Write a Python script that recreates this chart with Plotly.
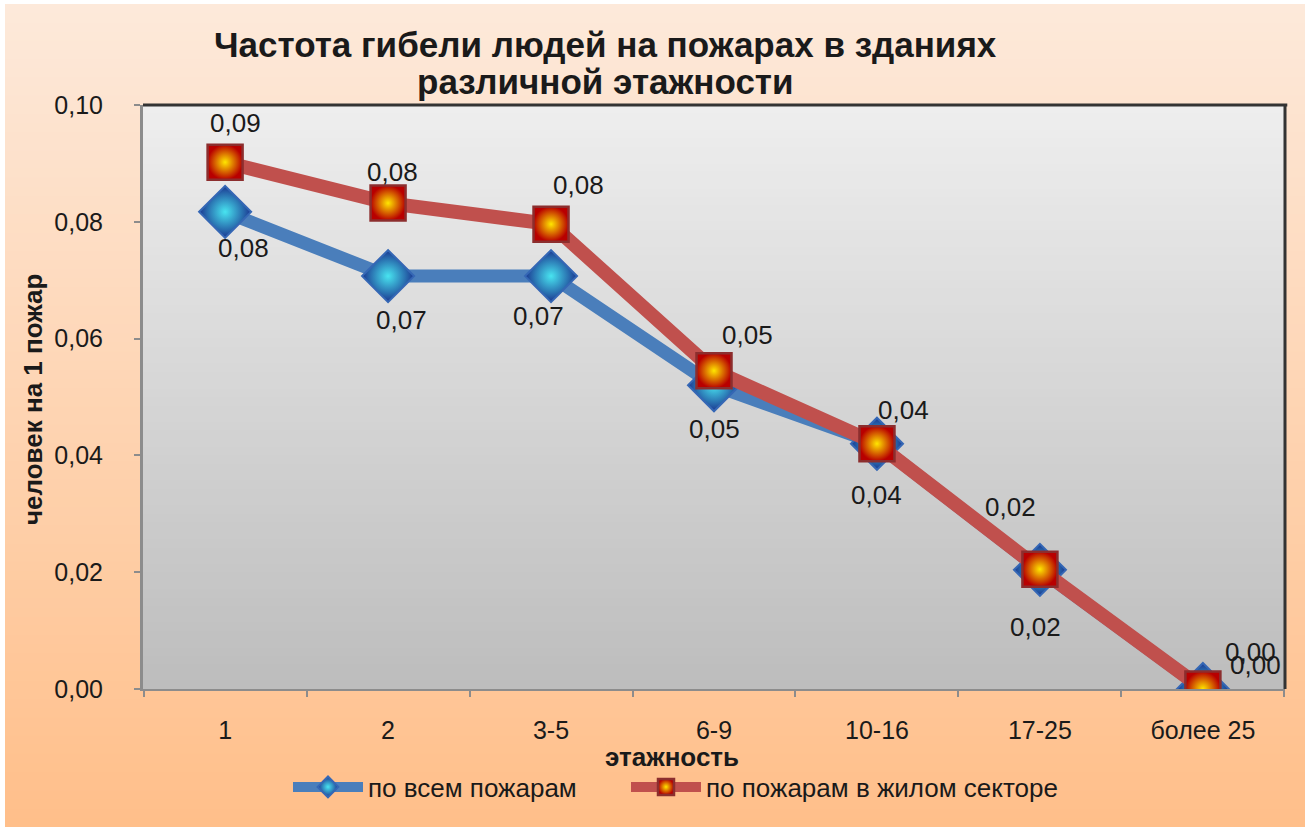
import plotly.graph_objects as go

categories = ["1", "2", "3-5", "6-9", "10-16", "17-25", "более 25"]
all_fires = [0.0817, 0.0707, 0.0707, 0.0520, 0.0420, 0.0204, 0.0]
residential = [0.0902, 0.0832, 0.0796, 0.0545, 0.0420, 0.0205, 0.0]
y_ticks = [0.0, 0.02, 0.04, 0.06, 0.08, 0.10]

name_all = "по всем пожарам"
name_res = "по пожарам в жилом секторе"
title_line1 = "Частота гибели людей на пожарах в зданиях"
title_line2 = "различной этажности"
x_title = "этажность"
y_title = "человек на 1 пожар"

# label offsets (px) relative to each marker - styling only
res_dx = [10, 4, 27, 33, 27, -29, 48]
res_dy = [39, 31, 39, 36, 34, 62, 37]
all_dx = [18, 13, -13, 0, 0, -4, 53]
all_dy = [-36, -44, -40, -44, -51, -57, 24]

FONT = "Liberation Sans, Arial, sans-serif"
W, H = 1305, 827
L, R, T, B = 143, 20, 105, 138
PW, PH = W - L - R, H - T - B


def px(xp):
    return (xp - L) / PW


def py(yp):
    return (H - B - yp) / PH


fig = go.Figure()
fig.add_trace(go.Scatter(
    x=categories, y=all_fires, name=name_all, mode="lines+markers", legend="legend",
    line=dict(color="#4a7ebb", width=13),
    marker=dict(symbol="diamond", size=40, color="#1a3690",
                gradient=dict(type="radial", color="#48e4f0"),
                line=dict(color="#3567b5", width=2)),
))
fig.add_trace(go.Scatter(
    x=categories, y=residential, name=name_res, mode="lines+markers", legend="legend2",
    line=dict(color="#c0504d", width=14),
    marker=dict(symbol="square", size=35, color="#b80000",
                gradient=dict(type="radial", color="#ffe600"),
                line=dict(color="#8c2e2e", width=2.5)),
))


def fmt(v):
    return f"{v:.2f}".replace(".", ",")


TXT = "#1a1a1a"
label_font = dict(family=FONT, size=26, color=TXT)
annotations = []
for i, (v, dx, dy) in enumerate(zip(residential, res_dx, res_dy)):
    annotations.append(dict(x=i, y=v, xref="x", yref="y", text=fmt(v), showarrow=False,
                            xshift=dx, yshift=dy, font=label_font))
for i, (v, dx, dy) in enumerate(zip(all_fires, all_dx, all_dy)):
    annotations.append(dict(x=i, y=v, xref="x", yref="y", text=fmt(v), showarrow=False,
                            xshift=dx, yshift=dy, font=label_font))
# chart title (two centred lines)
for txt, yc in ((title_line1, 44), (title_line2, 81)):
    annotations.append(dict(x=px(605), y=py(yc), xref="paper", yref="paper", text=f"<b>{txt}</b>",
                            xanchor="center", yanchor="middle", showarrow=False,
                            font=dict(family=FONT, size=35, color=TXT)))
annotations.append(dict(x=px(672), y=py(757), xref="paper", yref="paper", text=f"<b>{x_title}</b>",
                        xanchor="center", yanchor="middle", showarrow=False,
                        font=dict(family=FONT, size=26, color=TXT)))
annotations.append(dict(x=px(33), y=py(400), xref="paper", yref="paper", text=f"<b>{y_title}</b>",
                        xanchor="center", yanchor="middle", textangle=-90, showarrow=False,
                        font=dict(family=FONT, size=26, color=TXT)))

# background gradients drawn as thin strips
shapes = []


def lerp(a, b, t):
    return tuple(round(a[i] + (b[i] - a[i]) * t) for i in range(3))


top_c, bot_c = (253, 233, 218), (255, 191, 138)
n = 90
y_start, y_end = 4, H
for i in range(n):
    t = i / (n - 1)
    c = lerp(top_c, bot_c, t)
    ya = y_start + (y_end - y_start) * i / n
    yb = y_start + (y_end - y_start) * (i + 1) / n + 1
    shapes.append(dict(type="rect", xref="paper", yref="paper", x0=px(5), x1=px(W), y0=py(yb), y1=py(ya),
                       fillcolor=f"rgb{c}", line=dict(width=0), layer="below"))

ptop, pbot = (238, 238, 238), (189, 189, 189)
m = 70
for i in range(m):
    t = i / (m - 1)
    c = lerp(ptop, pbot, t)
    ya = 1 - i / m
    yb = 1 - (i + 1) / m
    shapes.append(dict(type="rect", xref="x domain", yref="y domain", x0=0, x1=1, y0=max(yb - 0.002, 0), y1=ya,
                       fillcolor=f"rgb{c}", line=dict(width=0), layer="below"))
# plot-area border: dark top and right edges
shapes.append(dict(type="line", xref="x domain", yref="y domain", x0=0, x1=1.002, y0=1, y1=1,
                   line=dict(color="#333333", width=3), layer="above"))
shapes.append(dict(type="line", xref="x domain", yref="y domain", x0=1, x1=1, y0=0, y1=1,
                   line=dict(color="#333333", width=3), layer="above"))

legend_style = dict(orientation="h", xanchor="left", y=py(787), yanchor="middle",
                    font=dict(family=FONT, size=26, color=TXT), bgcolor="rgba(0,0,0,0)",
                    itemwidth=70, tracegroupgap=0)

fig.update_layout(
    width=W, height=H,
    margin=dict(l=L, r=R, t=T, b=B, autoexpand=False),
    paper_bgcolor="white",
    plot_bgcolor="rgba(0,0,0,0)",
    separators=", ",
    font=dict(family=FONT, size=22, color=TXT),
    showlegend=True,
    legend=dict(x=px(288), **legend_style),
    legend2=dict(x=px(626), **legend_style),
    shapes=shapes,
    annotations=annotations,
    xaxis=dict(type="category", categoryorder="array", categoryarray=categories,
               showgrid=False, zeroline=False, showline=True, linecolor="#8c8c8c", linewidth=2,
               ticks="outside", ticklen=6, tickcolor="#8c8c8c", tickwidth=2, tickson="boundaries",
               tickfont=dict(family=FONT, size=25, color=TXT), ticklabelstandoff=18),
    yaxis=dict(range=[0, 0.10], tickvals=y_ticks, tickformat=".2f",
               showgrid=False, zeroline=False, showline=True, linecolor="#8c8c8c", linewidth=3,
               ticks="outside", ticklen=6, tickcolor="#8c8c8c", tickwidth=2,
               tickfont=dict(family=FONT, size=25, color=TXT), ticklabelstandoff=26),
)

fig.write_html("out.html", config={"displayModeBar": False})

# remove the default page margin so the figure sits at the window's top-left corner
with open("out.html", "r", encoding="utf-8") as f:
    html = f.read()
html = html.replace("<head>", "<head><style>html,body{margin:0;padding:0;}</style>", 1)
with open("out.html", "w", encoding="utf-8") as f:
    f.write(html)
